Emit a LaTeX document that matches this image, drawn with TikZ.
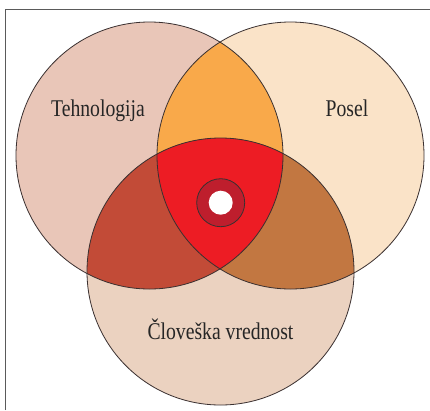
\documentclass[tikz,border=0pt]{standalone}
\usepackage{fontspec}
\setmainfont{Liberation Serif}[FakeStretch=0.82]
\definecolor{cTech}{HTML}{E9C6B8}
\definecolor{cPos}{HTML}{FAE3C8}
\definecolor{cClo}{HTML}{EBD2C0}
\definecolor{lTop}{HTML}{F9A94A}
\definecolor{lLeft}{HTML}{C24B37}
\definecolor{lRight}{HTML}{C27741}
\definecolor{cCenter}{HTML}{ED1C24}
\definecolor{cRing}{HTML}{BE1E2D}
\definecolor{cLine}{HTML}{3A3030}
\definecolor{cFrame}{HTML}{5A5A5A}
\tikzset{
  outline/.style={draw=cLine, line width=0.8pt},
  label/.style={font=\fontsize{24}{28}\selectfont, text=black!85, inner sep=0pt, anchor=base},
}
\begin{document}
\begin{tikzpicture}[x=1pt,y=-1pt]
\useasboundingbox (0,0) rectangle (430,410);
\fill[white] (0,0) rectangle (430,410);
\def\R{133.5pt}
\coordinate (cT) at (149.5,155.5);
\coordinate (cP) at (290.5,155.5);
\coordinate (cC) at (220.5,271.5);
% base circles
\fill[cTech] (cT) circle (\R);
\fill[cPos] (cP) circle (\R);
\fill[cClo] (cC) circle (\R);
% pairwise lenses
\begin{scope}\clip (cT) circle (\R); \fill[lTop] (cP) circle (\R); \end{scope}
\begin{scope}\clip (cT) circle (\R); \fill[lLeft] (cC) circle (\R); \end{scope}
\begin{scope}\clip (cP) circle (\R); \fill[lRight] (cC) circle (\R); \end{scope}
% triple intersection
\begin{scope}\clip (cT) circle (\R); \clip (cP) circle (\R); \fill[cCenter] (cC) circle (\R); \end{scope}
% outlines
\draw[outline] (cT) circle (\R);
\draw[outline] (cP) circle (\R);
\draw[outline] (cC) circle (\R);
% center ring
\coordinate (ring) at (220.7,202.7);
\fill[cRing] (ring) circle (24pt);
\draw[outline] (ring) circle (24pt);
\fill[white] (ring) circle (12pt);
% labels
\node[label] (tech) at (98,116.5) {Tehnologija};
\node[label] (posel) at (347,116.5) {Posel};
\node[label] (clov) at (220.5,339.5) {Človeška vrednost};
% frame
\draw[cFrame, line width=1.4pt] (5.7,410) -- (5.7,9.7) -- (430,9.7);
\end{tikzpicture}
\end{document}
